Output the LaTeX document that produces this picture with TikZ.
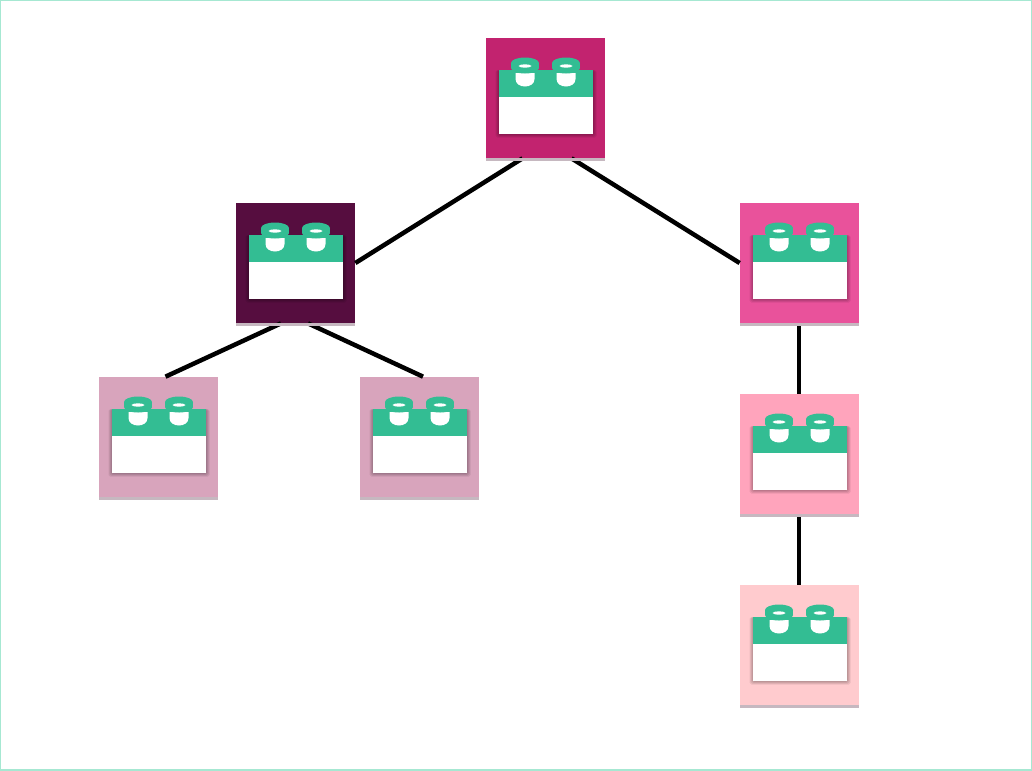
\documentclass[tikz,border=0pt]{standalone}
\usetikzlibrary{positioning}
\definecolor{mint}{HTML}{A6E8D2}
\definecolor{brickgreen}{HTML}{33BD93}
\definecolor{strip}{HTML}{C6B8C0}
\definecolor{rootpink}{HTML}{C2236F}
\definecolor{darkplum}{HTML}{560D3F}
\definecolor{hotpink}{HTML}{E9529B}
\definecolor{dustypink}{HTML}{D8A4BC}
\definecolor{softpink}{HTML}{FFA4BC}
\definecolor{palepink}{HTML}{FFCBCE}
\tikzset{
  tile/.style={minimum width=23.8mm, minimum height=24mm, inner sep=0pt},
  link/.style={line width=0.9mm, black},
  brick/.pic={
    % ---- strip under the tile ----
    \fill[strip] (-59.5,59.5) rectangle (59.5,62.5);
    % ---- soft shadow ----
    \foreach \s in {1,2,3,4}
      \fill[black, opacity=0.08, rounded corners=1pt]
        (-47-\s+1,-28) rectangle (47+\s,35.5+\s);
    % ---- body ----
    \fill[brickgreen] (-47,-28.5) rectangle (47,-0.5);
    \fill[white] (-47,-1.5) rectangle (47,35.5);
    % ---- studs ----
    \foreach \c in {-20.5,20.5}{
      \fill[white] (\c-9.5,-25) -- (\c+9.5,-25) -- (\c+9.5,-19)
        .. controls (\c+9.5,-9) and (\c-9.5,-9) .. (\c-9.5,-19) -- cycle;
      \fill[brickgreen] (\c,-35) ellipse[x radius=14*0.2mm, y radius=5.5*0.2mm];
      \fill[brickgreen] (\c,-30) ellipse[x radius=14*0.2mm, y radius=5.5*0.2mm];
      \fill[brickgreen] (\c-14,-35) rectangle (\c+14,-30);
      \fill[white] (\c,-32) ellipse[x radius=6.5*0.2mm, y radius=1.6*0.2mm];
    }
  }
}
\begin{document}
\begin{tikzpicture}[x=0.2mm, y=-0.2mm]
  \useasboundingbox (0,0) rectangle (1032,770);
  \draw[mint, line width=0.3mm] (0,0) rectangle (1032,770);
  % ---- tiles ----
  \node[tile, fill=rootpink] (root) at (545.5,98) {};
  \node[tile, fill=darkplum] (left) at (295.5,263) {};
  \node[tile, fill=hotpink] (right) at (799.5,263) {};
  \node[tile, fill=dustypink] (leafa) at (158.5,437) {};
  \node[tile, fill=dustypink] (leafb) at (419.5,437) {};
  \node[tile, fill=softpink] (mid) at (799.5,454) {};
  \node[tile, fill=palepink] (low) at (799.5,645) {};
  % ---- connectors ----
  \draw[link] ([xshift=-4.6mm]root.south) -- (left.east);
  \draw[link] ([xshift=5.2mm]root.south) -- (right.west);
  \draw[link] ([xshift=-2.9mm]left.south) -- ([xshift=1.4mm]leafa.north);
  \draw[link] ([xshift=2.5mm]left.south) -- ([xshift=0.7mm]leafb.north);
  \draw[link] ([xshift=-0.1mm]right.south) -- ([xshift=-0.1mm]mid.north);
  \draw[link] ([xshift=-0.1mm]mid.south) -- ([xshift=-0.1mm]low.north);
  % ---- bricks ----
  \foreach \n in {root,left,right,leafa,leafb,mid,low}
    \pic at (\n.center) {brick};
\end{tikzpicture}
\end{document}
